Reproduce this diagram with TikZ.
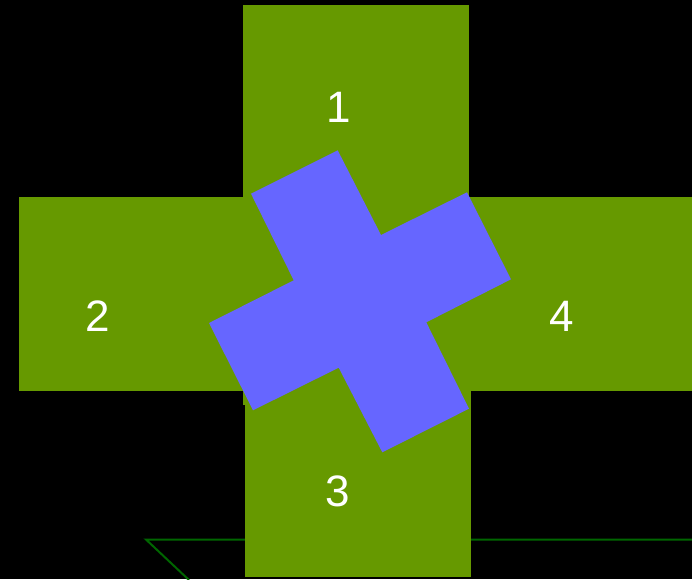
\documentclass[tikz,border=0pt]{standalone}
\usepackage{fontspec}
\setmainfont{Liberation Sans}
\definecolor{leaf}{HTML}{669900}
\definecolor{violet}{HTML}{6666FF}
\definecolor{darkline}{HTML}{006600}
\tikzset{
  panel/.style={fill=leaf, draw=none},
  crossshape/.style={fill=violet, draw=none},
  groundline/.style={draw=darkline, line width=2pt},
  numlabel/.style={text=white, inner sep=0pt, font=\fontsize{44}{48}\selectfont}
}
\begin{document}
\begin{tikzpicture}[x=1pt,y=-1pt]
\fill[black] (0,0) rectangle (692,579);
\useasboundingbox (0,0) rectangle (692,579);
% ground lines
\coordinate (g1) at (146,539.5);
\coordinate (g2) at (692,539.5);
\coordinate (g3) at (189,580);
\draw[groundline] (g3) -- (g1) -- (g2);
% panels
\fill[panel] (243,5) rectangle (469,405);
\fill[panel] (19,197) rectangle (469,390.5);
\fill[panel] (469,197) rectangle (692,390.5);
\fill[panel] (245,390) rectangle (471,577);
% cross
\fill[crossshape] (251,193.7) -- (337.7,150.3) -- (381,235) -- (467,192.3) -- (511,279.3)
  -- (426.3,322.3) -- (469,408.7) -- (382.3,452.3) -- (338.7,367.7) -- (253,410.3)
  -- (209,323) -- (293.7,280.3) -- cycle;
% labels
\node[numlabel] (n1) at (339,107) {1};
\node[numlabel] (n2) at (97.5,316) {2};
\node[numlabel] (n4) at (562,316) {4};
\node[numlabel] (n3) at (338,491.5) {3};
\end{tikzpicture}
\end{document}
